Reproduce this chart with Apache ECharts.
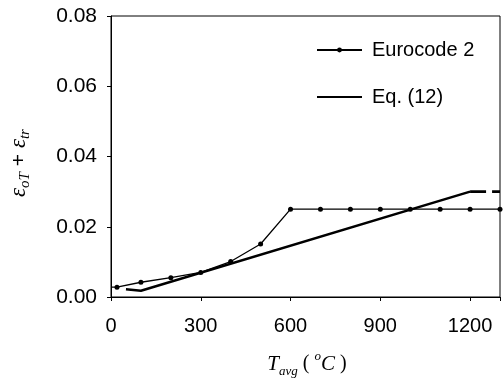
<!DOCTYPE html>
<html>
<head>
<meta charset="utf-8">
<script src="https://cdn.jsdelivr.net/npm/echarts@6/dist/echarts.min.js"></script>
<style>
  html, body { margin: 0; padding: 0; background: #fff; }
  #chart { width: 503px; height: 391px; }
</style>
</head>
<body>
<div id="chart"></div>
<script>
// Eurocode 2 curve (temperature in degC, strain)
var euroTemp   = [0, 20, 100, 200, 300, 400, 500, 600, 700, 800, 900, 1000, 1100, 1200, 1300];
var euroStrain = [0.0028, 0.0028, 0.0042, 0.0055, 0.0070, 0.0101, 0.0151, 0.025, 0.025, 0.025, 0.025, 0.025, 0.025, 0.025, 0.025];

// Eq. (12), solid part and dashed extension
var eqTemp   = [50, 100, 1200];
var eqStrain = [0.0022, 0.0018, 0.030];
var extTemp   = [1200, 1300];
var extStrain = [0.030, 0.030];

var seriesNames = ['Eurocode 2', 'Eq. (12)'];

function pairs(xs, ys){
	var out = [];
	for(let i = 0; i < xs.length; i++){
		out.push([xs[i], ys[i]]);
	}
	return out;
}

var euroData = pairs(euroTemp, euroStrain);
// no marker at the start of the line
euroData[0] = {value: euroData[0], symbol: 'none'};

var myChart = echarts.init(document.getElementById('chart'));
var serif = '"Liberation Serif", "DejaVu Serif", serif';
var sans = '"Liberation Sans", Arial, sans-serif';

var option = {
	backgroundColor: '#fff',
	animation: false,
	grid: {
		left: 111, right: 2, top: 16, bottom: 94,
		show: true, borderColor: '#000', borderWidth: 1
	},
	legend: {
		data: [
			{name: seriesNames[0]},
			{name: seriesNames[1], itemStyle: {opacity: 0, color: 'rgba(0,0,0,0)'}}
		],
		orient: 'vertical',
		left: 316,
		top: 40,
		padding: 0,
		itemWidth: 45,
		itemHeight: 6,
		itemGap: 27,
		textStyle: {
			fontFamily: sans, fontSize: 20, color: '#000',
			padding: [0, 0, 0, 5]
		}
	},
	xAxis: {
		type: 'value',
		min: 0, max: 1300, interval: 300,
		splitLine: {show: false},
		axisLine: {lineStyle: {color: '#000', width: 1}},
		axisTick: {length: 4, lineStyle: {color: '#000'}},
		axisLabel: {
			fontFamily: sans, fontSize: 20, color: '#000', margin: 19,
			formatter: function(v){ return v === 1300 ? '' : String(v); }
		}
	},
	yAxis: {
		type: 'value',
		min: 0, max: 0.08, interval: 0.02,
		splitLine: {show: false},
		axisLine: {show: true, lineStyle: {color: '#000', width: 1}},
		axisTick: {show: true, length: 4, lineStyle: {color: '#000'}},
		axisLabel: {
			fontFamily: sans, fontSize: 21, color: '#000', margin: 14,
			formatter: function(v){ return v.toFixed(2); }
		}
	},
	graphic: [
		{
			type: 'text',
			x: 19, y: 163,
			rotation: Math.PI / 2,
			style: {
				text: '{e|ε}{s|oT}{p| + }{e|ε}{s|tr}',
				align: 'center',
				verticalAlign: 'middle',
				rich: {
					e: {fontFamily: serif, fontStyle: 'italic', fontSize: 23, lineHeight: 28, fill: '#000'},
					s: {fontFamily: serif, fontStyle: 'italic', fontSize: 15, lineHeight: 15, verticalAlign: 'bottom', fill: '#000'},
					p: {fontFamily: sans, fontSize: 21, lineHeight: 28, fill: '#000'}
				}
			}
		},
		{
			type: 'text',
			x: 307, y: 364,
			style: {
				text: '{t|T}{s|avg}{p| ( }{o|o}{t|C}{p| )}',
				align: 'center',
				verticalAlign: 'middle',
				rich: {
					t: {fontFamily: serif, fontStyle: 'italic', fontSize: 21, lineHeight: 28, fill: '#000'},
					s: {fontFamily: serif, fontStyle: 'italic', fontSize: 13, lineHeight: 13, verticalAlign: 'bottom', fill: '#000'},
					o: {fontFamily: serif, fontStyle: 'italic', fontSize: 13, lineHeight: 13, verticalAlign: 'top', fill: '#000'},
					p: {fontFamily: serif, fontSize: 20, lineHeight: 28, fill: '#000'}
				}
			}
		}
	],
	series: [
		{
			name: seriesNames[0],
			type: 'line',
			data: euroData,
			symbol: 'circle',
			symbolSize: 5,
			itemStyle: {color: '#000'},
			lineStyle: {color: '#000', width: 1.3}
		},
		{
			name: seriesNames[1],
			type: 'line',
			data: pairs(eqTemp, eqStrain),
			symbol: 'none',
			itemStyle: {color: '#000'},
			lineStyle: {color: '#000', width: 2.6}
		},
		{
			name: 'Eq. (12) extension',
			type: 'line',
			data: pairs(extTemp, extStrain),
			symbol: 'none',
			itemStyle: {color: '#000'},
			lineStyle: {color: '#000', width: 2.6, type: [16, 6]}
		}
	]
};
myChart.setOption(option);
</script>
</body>
</html>
